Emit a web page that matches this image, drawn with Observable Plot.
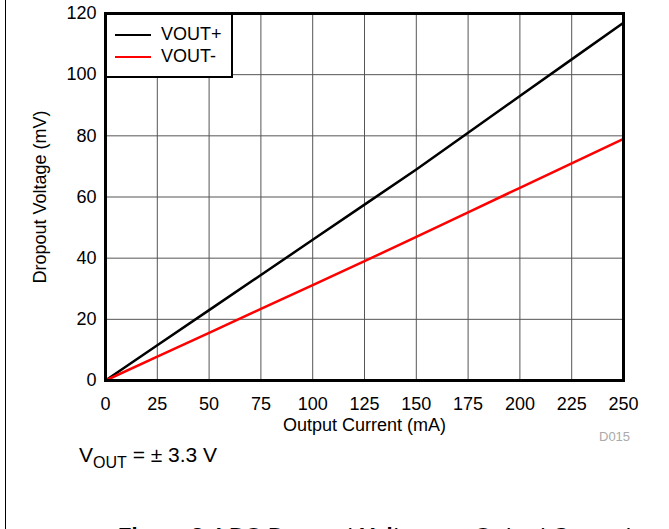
<!DOCTYPE html>
<html><head><meta charset="utf-8">
<script src="https://cdn.jsdelivr.net/npm/d3@7"></script>
<script src="https://cdn.jsdelivr.net/npm/@observablehq/plot@0.6"></script>
<style>
body{margin:0;background:#fff;font-family:"Liberation Sans",Arial,sans-serif;}
#wrap{position:relative;width:669px;height:529px;overflow:hidden;}
#border{position:absolute;left:5px;top:0;width:0;height:529px;border-left:1.5px solid #000;}
#wrap svg text{font-size:18px !important;font-family:"Liberation Sans",Arial,sans-serif !important;}
.legend{position:absolute;left:105px;top:13px;width:124px;height:61px;border:2.5px solid #000;background:#fff;box-sizing:content-box;}
.legend .row{position:absolute;left:8px;height:22px;font-size:18px;line-height:22px;white-space:nowrap;}
.legend .sw{display:inline-block;width:36px;height:0;border-top:2.5px solid;vertical-align:middle;margin-right:10px;}
.note{position:absolute;left:79px;top:443px;font-size:21px;white-space:nowrap;}
.d015{position:absolute;left:599px;top:429px;font-size:13px;color:#aaa;}
.cap{position:absolute;left:118px;top:523px;font-size:22px;font-weight:bold;white-space:nowrap;}
</style></head>
<body><div id="wrap"><div id="border"></div></div>
<script>
const current = [0, 25, 50, 75, 100, 125, 150, 175, 200, 225, 250];
const voutPlus = [0, 11.5, 23, 34.5, 46, 57.5, 69, 81, 93, 105, 117];
const voutMinus = [0, 7.8, 15.6, 23.4, 31.2, 39, 47, 55, 63, 71, 79];
const seriesNames = ["VOUT+", "VOUT-"];
const seriesColors = ["#000000", "#ff0000"];
const xTicks = [0, 25, 50, 75, 100, 125, 150, 175, 200, 225, 250];
const yTicks = [0, 20, 40, 60, 80, 100, 120];

const data = [];
current.forEach((c, i) => {
  data.push({x: c, y: voutPlus[i], s: seriesNames[0]});
  data.push({x: c, y: voutMinus[i], s: seriesNames[1]});
});

const chart = Plot.plot({
  width: 669, height: 529,
  marginLeft: 105, marginRight: 46, marginTop: 13, marginBottom: 149,
  style: {fontFamily: '"Liberation Sans", Arial, sans-serif', fontSize: "18px", color: "#000", background: "transparent"},
  x: {domain: [0, 250], ticks: xTicks},
  y: {domain: [0, 120], ticks: yTicks},
  color: {domain: seriesNames, range: seriesColors},
  marks: [
    Plot.gridX(xTicks, {stroke: "#555", strokeOpacity: 1, strokeWidth: 1}),
    Plot.gridY(yTicks, {stroke: "#555", strokeOpacity: 1, strokeWidth: 1}),
    Plot.axisX(xTicks, {tickSize: 0, tickPadding: 17, label: "Output Current (mA)", labelAnchor: "center", labelArrow: "none", labelOffset: 50}),
    Plot.axisY(yTicks, {tickSize: 0, tickPadding: 9, label: "Dropout Voltage (mV)", labelAnchor: "center", labelOffset: 72, labelArrow: "none"}),
    Plot.line(data, {x: "x", y: "y", z: "s", stroke: "s", strokeWidth: 2.5}),
    Plot.frame({stroke: "#000", strokeWidth: 3})
  ]
});
const wrap = document.getElementById("wrap");
wrap.appendChild(chart);
chart.style.position = "absolute"; chart.style.left = "0"; chart.style.top = "0";

const leg = document.createElement("div");
leg.className = "legend";
seriesNames.forEach((n, i) => {
  const r = document.createElement("div");
  r.className = "row";
  r.style.top = (8 + i * 22) + "px";
  r.innerHTML = `<span class="sw" style="border-color:${seriesColors[i]}"></span>${n}`;
  leg.appendChild(r);
});
wrap.appendChild(leg);

const note = document.createElement("div");
note.className = "note";
note.innerHTML = "V<sub style='font-size:16px;vertical-align:-6px'>OUT</sub> = ± 3.3 V";
wrap.appendChild(note);
const d = document.createElement("div"); d.className = "d015"; d.textContent = "D015"; wrap.appendChild(d);
const cap = document.createElement("div"); cap.className = "cap"; cap.textContent = "Figure 3. LDO Dropout Voltage vs Output Current"; wrap.appendChild(cap);
</script></body></html>
